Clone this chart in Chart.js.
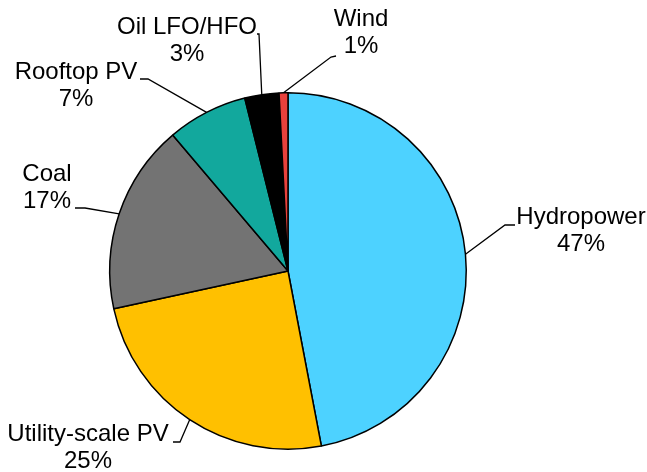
<!DOCTYPE html>
<html>
<head>
<meta charset="utf-8">
<script src="https://cdn.jsdelivr.net/npm/chart.js@4"></script>
<style>
  body { margin: 0; background: #fff; }
  #wrap { width: 647px; height: 472px; }
</style>
</head>
<body>
<div id="wrap"><canvas id="pie" width="647" height="472"></canvas></div>
<script>
// data
const sources = ["Hydropower", "Utility-scale PV", "Coal", "Rooftop PV", "Oil LFO/HFO", "Wind"];
const shares = [47.0, 24.6, 17.2, 7.3, 3.1, 0.8];
const colors = ["#4dd2ff", "#ffc000", "#737373", "#12a89d", "#000000", "#e8413c"];

// label placement (text centre, leader elbow, leader end)
const labelPos = [
    { x: 581, y: 217, elbow: [505, 225], end: [515, 225] },
    { x: 88, y: 434, elbow: [180, 442], end: [173, 442] },
    { x: 47, y: 174, elbow: [85, 208], end: [75, 208] },
    { x: 76, y: 72, elbow: [148, 79], end: [140, 79] },
    { x: 187, y: 27, elbow: [259, 34], end: [257, 34] },
    { x: 361, y: 19, elbow: [331, 57], end: [336, 56] }
];

const outsideLabels = {
    id: 'outsideLabels',
    afterDatasetsDraw(chart) {
        const ctx = chart.ctx;
        const arcs = chart.getDatasetMeta(0).data;
        const total = shares.reduce((a, b) => a + b, 0);
        ctx.save();
        ctx.strokeStyle = '#000';
        ctx.lineWidth = 1.3;
        arcs.forEach((arc, i) => {
            const p = labelPos[i];
            const mid = (arc.startAngle + arc.endAngle) / 2;
            const sx = arc.x + Math.cos(mid) * arc.outerRadius;
            const sy = arc.y + Math.sin(mid) * arc.outerRadius;
            ctx.beginPath();
            ctx.moveTo(sx, sy);
            ctx.lineTo(p.elbow[0], p.elbow[1]);
            ctx.lineTo(p.end[0], p.end[1]);
            ctx.stroke();

            ctx.fillStyle = '#000';
            ctx.font = '24px "Liberation Sans", Arial, sans-serif';
            ctx.textAlign = 'center';
            ctx.textBaseline = 'middle';
            ctx.fillText(sources[i], p.x, p.y);
            ctx.fillText(Math.round(shares[i] / total * 100) + '%', p.x, p.y + 27);
        });
        ctx.restore();
    }
};

new Chart(document.getElementById('pie').getContext('2d'), {
    type: 'pie',
    data: {
        labels: sources,
        datasets: [{
            data: shares,
            backgroundColor: colors,
            borderColor: '#000',
            borderWidth: 1.5
        }]
    },
    options: {
        responsive: false,
        animation: false,
        layout: {
            padding: { top: 91, bottom: 21, left: 109, right: 180 }
        },
        plugins: {
            legend: { display: false },
            tooltip: { enabled: false }
        }
    },
    plugins: [outsideLabels]
});
</script>
</body>
</html>
